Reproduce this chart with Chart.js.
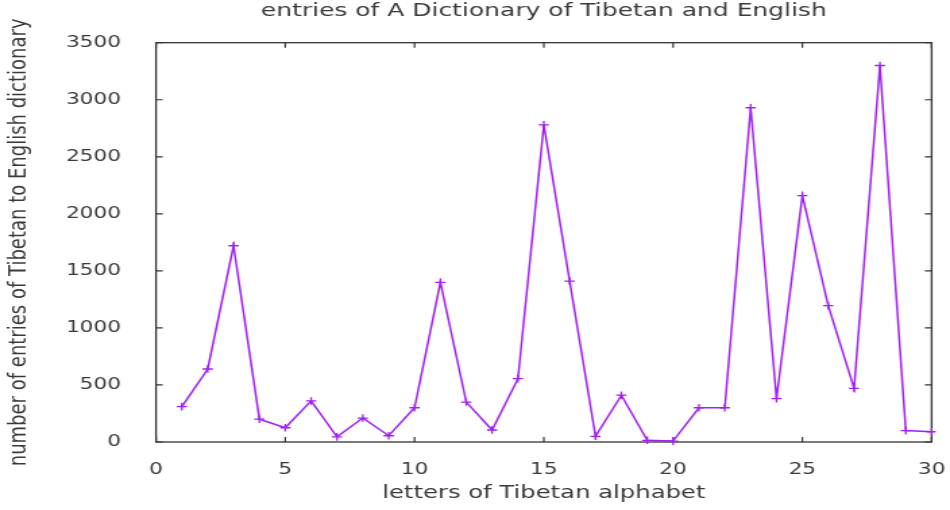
<!DOCTYPE html>
<html>
<head>
<meta charset="utf-8">
<script src="https://cdn.jsdelivr.net/npm/chart.js@4"></script>
<style>
  html, body { margin: 0; padding: 0; background: #fff; overflow: hidden; }
  /* the reference is stretched sideways, so the chart is drawn narrow and widened */
  #wrap { width: 704px; height: 510px; transform: scaleX(1.3494); transform-origin: 0 0; }
</style>
</head>
<body>
<div id="wrap"><canvas id="chart" width="704" height="510"></canvas></div>
<script>
// data
const letters = [1, 2, 3, 4, 5, 6, 7, 8, 9, 10, 11, 12, 13, 14, 15,
  16, 17, 18, 19, 20, 21, 22, 23, 24, 25, 26, 27, 28, 29, 30];
const entries = [310, 640, 1720, 200, 125, 360, 45, 210, 55, 300, 1400, 350, 105, 555, 2780,
  1410, 50, 410, 15, 8, 300, 300, 2930, 380, 2160, 1195, 470, 3300, 100, 90];
const xTicks = [0, 5, 10, 15, 20, 25, 30];
const yTicks = [0, 500, 1000, 1500, 2000, 2500, 3000, 3500];

const textColor = "#3a3a3a";
const lineColor = "#a020f0";

// gnuplot style box with ticks pointing inward on all four sides
const boxPlugin = {
  id: "box",
  beforeDatasetsDraw(chart) {
    const { ctx, chartArea: a, scales } = chart;
    ctx.save();
    ctx.strokeStyle = "#333";
    ctx.lineWidth = 1.3;
    ctx.strokeRect(a.left, a.top, a.right - a.left, a.bottom - a.top);
    ctx.lineWidth = 1.2;
    ctx.beginPath();
    xTicks.forEach(function (v) {
      const x = scales.x.getPixelForValue(v);
      ctx.moveTo(x, a.bottom); ctx.lineTo(x, a.bottom - 5);
      ctx.moveTo(x, a.top); ctx.lineTo(x, a.top + 5);
    });
    yTicks.forEach(function (v) {
      const y = scales.y.getPixelForValue(v);
      ctx.moveTo(a.left, y); ctx.lineTo(a.left + 5, y);
      ctx.moveTo(a.right, y); ctx.lineTo(a.right - 5, y);
    });
    ctx.stroke();
    ctx.restore();
  },
};

new Chart(document.getElementById("chart").getContext("2d"), {
  type: "line",
  data: {
    datasets: [
      {
        data: letters.map(function (l, i) { return { x: l, y: entries[i] }; }),
        borderColor: lineColor,
        borderWidth: 1.5,
        pointStyle: "cross",
        pointRadius: 3.8,
        pointBorderColor: lineColor,
        pointBorderWidth: 1.3,
        tension: 0,
        clip: 3,
      },
    ],
  },
  options: {
    responsive: false,
    animation: false,
    layout: { padding: { left: 0, right: 13.6, top: 0, bottom: 0 } },
    plugins: {
      legend: { display: false },
      tooltip: { enabled: false },
      title: {
        display: true,
        fullSize: false,
        text: "entries of A Dictionary of Tibetan and English",
        color: textColor,
        font: { family: "DejaVu Sans", size: 18.5, weight: "normal" },
        padding: { top: 0, bottom: 20.5 },
      },
    },
    scales: {
      x: {
        type: "linear",
        min: 0,
        max: 30,
        afterBuildTicks(scale) { scale.ticks = xTicks.map(function (v) { return { value: v }; }); },
        afterFit(scale) {
          scale.height = 68;
          scale.paddingLeft = 0;
          scale.paddingRight = 0;
        },
        grid: { display: false },
        border: { display: false },
        ticks: { color: textColor, padding: 10, font: { family: "DejaVu Sans", size: 16 } },
        title: {
          display: true,
          text: "letters of Tibetan alphabet",
          color: textColor,
          font: { family: "DejaVu Sans", size: 18 },
          padding: { top: 0, bottom: 6 },
        },
      },
      y: {
        min: 0,
        max: 3500,
        afterBuildTicks(scale) { scale.ticks = yTicks.map(function (v) { return { value: v }; }); },
        afterFit(scale) {
          scale.width = 115.6;
          scale.paddingTop = 0;
          scale.paddingBottom = 0;
        },
        grid: { display: false },
        border: { display: false },
        ticks: {
          color: textColor,
          padding: 18,
          font: { family: "DejaVu Sans", size: 16 },
          callback: function (v) { return String(v); },
        },
        title: {
          display: true,
          text: "number of entries of Tibetan to English dictionary",
          color: textColor,
          font: { family: "DejaVu Sans", size: 18 },
          padding: { top: 4, bottom: 0 },
        },
      },
    },
  },
  plugins: [boxPlugin],
});
</script>
</body>
</html>
